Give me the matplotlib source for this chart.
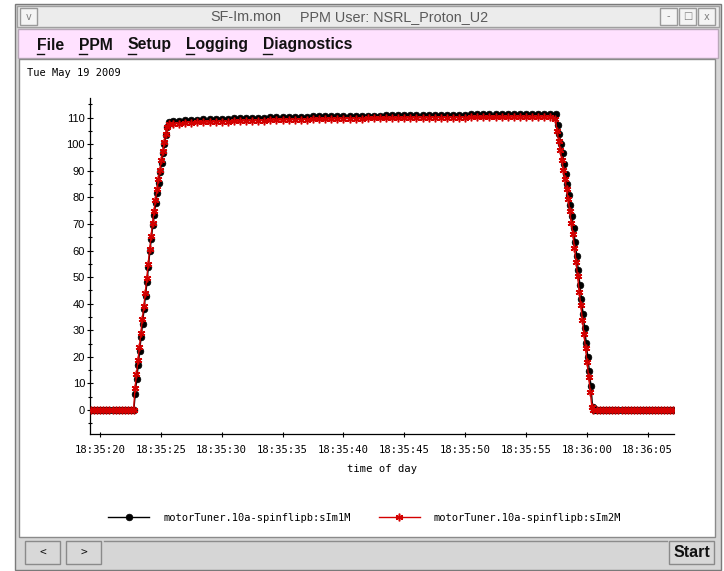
import numpy as np
import pandas as pd
import matplotlib
matplotlib.use("Agg")
import matplotlib.pyplot as plt
import matplotlib.dates as mdates
from matplotlib.patches import Rectangle

T0 = pd.Timestamp("2009-05-19 18:35:00")

# ---- data: seconds after 18:35:00 where a segment starts, its sample period, values ----
# motorTuner.10a-spinflipb:sIm1M (black)
blk_lead = [0, 0, 0, 0, 0, 0, 0, 0, 0, 0, 0, 0, 0, 0]
blk_up = [0, 6.2, 11.6, 16.9, 22.4, 27.5, 32.5, 38.0, 43.0, 48.0, 54.0, 59.8, 64.4,
          69.5, 73.5, 77.9, 81.6, 85.6, 89.4, 92.9, 96.6, 100.0, 103.5, 106.5, 108.3]
blk_flat = [108.6, 108.8, 109.0, 109.1, 109.3, 109.4, 109.4, 109.5, 109.6, 109.6,
            109.7, 109.8, 109.9, 109.9, 110.0, 110.0, 110.1, 110.2, 110.2, 110.3,
            110.3, 110.4, 110.4, 110.5, 110.5, 110.5, 110.6, 110.6, 110.7, 110.7,
            110.7, 110.6, 110.8, 110.8, 110.8, 110.9, 110.9, 110.9, 110.9, 111.0,
            111.0, 111.0, 111.0, 111.1, 111.1, 111.1, 111.1, 111.1, 111.1, 111.2,
            111.2, 111.2, 111.2, 111.2, 111.2, 111.3, 111.3, 111.3, 111.3, 111.3,
            111.3, 111.3, 111.3]
blk_down = [111.4, 107.2, 103.7, 100.2, 96.6, 92.7, 88.7, 84.9, 80.9, 77.0, 73.0, 68.5,
            63.3, 58.0, 52.6, 47.2, 41.6, 36.0, 30.7, 25.3, 19.8, 14.8, 9.0, 1.2, 0]
blk_tail = [0, 0, 0, 0, 0, 0, 0, 0, 0, 0, 0, 0, 0, 0, 0, 0, 0, 0, 0, 0, 0, 0, 0, 0, 0, 0]

# motorTuner.10a-spinflipb:sIm2M (red)
red_lead = [0, 0, 0, 0, 0, 0, 0, 0, 0, 0, 0, 0, 0, 0]
red_up = [0, 8.4, 13.7, 18.7, 23.7, 29.0, 34.4, 39.0, 44.0, 49.5, 55.0, 60.5, 65.5,
          70.5, 75.0, 79.0, 83.0, 87.0, 90.5, 94.0, 97.5, 101.0, 104.0, 106.5, 107.5]
red_flat = [107.6, 107.8, 108.0, 108.1, 108.2, 108.3, 108.3, 108.4, 108.5, 108.5,
            108.6, 108.7, 108.8, 108.8, 108.9, 108.9, 109.0, 109.1, 109.1, 109.2,
            109.2, 109.3, 109.3, 109.4, 109.4, 109.4, 109.5, 109.5, 109.6, 109.6,
            109.6, 109.5, 109.7, 109.7, 109.7, 109.8, 109.8, 109.8, 109.8, 109.9,
            109.9, 109.9, 109.9, 110.0, 110.0, 110.0, 110.0, 110.0, 110.0, 110.1,
            110.1, 110.1, 110.1, 110.1, 110.1, 110.2, 110.2, 110.2, 110.2, 110.2,
            110.2, 110.2, 110.2]
red_down = [109.5, 105.0, 101.2, 97.7, 94.0, 90.3, 86.8, 83.0, 79.3, 74.9, 70.5, 66.1,
            61.1, 55.7, 50.4, 44.4, 39.4, 34.0, 28.8, 23.4, 18.1, 12.5, 6.9, 1.2, 0]
red_tail = [0, 0, 0, 0, 0, 0, 0, 0, 0, 0, 0, 0, 0, 0, 0, 0, 0, 0, 0, 0, 0, 0, 0, 0, 0, 0]

blk_segments = [(19.28, 0.25, blk_lead), (22.78, 0.12, blk_up), (26.0, 0.5, blk_flat),
                (57.48, 0.13, blk_down), (60.85, 0.25, blk_tail)]
red_segments = [(19.28, 0.25, red_lead), (22.76, 0.12, red_up), (26.0, 0.5, red_flat),
                (57.42, 0.13, red_down), (60.85, 0.25, red_tail)]

labels = ["motorTuner.10a-spinflipb:sIm1M", "motorTuner.10a-spinflipb:sIm2M"]


def build(segments):
    times, vals = [], []
    for start, step, values in segments:
        secs = start + step * np.arange(len(values))
        times.append(T0 + pd.to_timedelta(secs, unit="s"))
        vals.extend(values)
    return np.concatenate([t.to_numpy() for t in times]), np.array(vals)


bt, bv = build(blk_segments)
rt, rv = build(red_segments)

W, H = 724, 571
fig = plt.figure(figsize=(W / 100, H / 100), dpi=100, facecolor="white")

# ---- window chrome (pixel coordinates, y downwards) ----
bg = fig.add_axes([0, 0, 1, 1])
bg.set_xlim(0, W)
bg.set_ylim(H, 0)
bg.axis("off")

bg.add_patch(Rectangle((15, 4), 706, 566, fc="#d6d6d6", ec="#7a7a7a", lw=1))
bg.add_patch(Rectangle((17, 6), 702, 21, fc="#ececec", ec="#a0a0a0", lw=1))
for x0, glyph in [(20, "v"), (660, "-"), (679, "\u25a1"), (698, "x")]:
    bg.add_patch(Rectangle((x0, 8), 17, 17, fc="#f4f4f4", ec="#9a9a9a", lw=1))
    bg.text(x0 + 8.5, 16.5, glyph, ha="center", va="center", fontsize=7, color="#808080")
bg.text(210, 17, "SF-Im.mon", ha="left", va="center", fontsize=10.4,
        family="Liberation Sans", color="#5a5a5a")
bg.text(300, 17, "PPM User: NSRL_Proton_U2", ha="left", va="center", fontsize=10.4,
        family="Liberation Sans", color="#5a5a5a")

bg.add_patch(Rectangle((18, 29), 700, 29, fc="#ffe1ff", ec="#b8a8b8", lw=1))
menu_font = ["Liberation Sans Narrow", "Liberation Sans"]
for x0, word, uw in [(37, "File", 7), (79, "PPM", 8), (128, "Setup", 8),
                     (186, "Logging", 8), (263, "Diagnostics", 9)]:
    bg.text(x0, 45, word, ha="left", va="center", fontsize=11.3, fontweight="bold",
            family=menu_font, color="#111111")
    bg.plot([x0, x0 + uw], [54, 54], color="#111111", lw=1)

bg.add_patch(Rectangle((19, 59), 696, 478, fc="white", ec="#8a8a8a", lw=1))
bg.text(27, 73, "Tue May 19 2009", ha="left", va="center", fontsize=7.5,
        family="DejaVu Sans Mono", color="black")

bg.plot([104, 667], [541, 541], color="#8c8c8c", lw=1)
for x0, w, txt, fw in [(25, 35, "<", "normal"), (66, 35, ">", "normal"), (669, 45, "Start", "bold")]:
    bg.add_patch(Rectangle((x0, 541), w, 23, fc="#d8d8d8", ec="#8a8a8a", lw=1))
    bg.text(x0 + w / 2, 552.5, txt, ha="center", va="center",
            fontsize=11.5 if fw == "bold" else 8, fontweight=fw,
            family=menu_font if fw == "bold" else "DejaVu Sans Mono", color="#111111")

# ---- the plot ----
ax = fig.add_axes([90 / W, 1 - 434 / H, 584 / W, 336 / H])
ax.set_facecolor("none")
l1, = ax.plot(bt, bv, color="black", lw=1, marker="o", markersize=4.8,
              markeredgewidth=0.5, zorder=3)
l2, = ax.plot(rt, rv, color="#d40000", lw=1, marker=(6, 2, 0), markersize=5.5,
              markeredgewidth=1.1, zorder=4)

ax.set_xlim((T0 + pd.Timedelta(seconds=19.18)).to_pydatetime(),
            (T0 + pd.Timedelta(seconds=67.16)).to_pydatetime())
ax.set_ylim(-9.0, 117.4)
ax.xaxis.set_major_locator(mdates.SecondLocator(bysecond=range(0, 60, 5)))
ax.xaxis.set_major_formatter(mdates.DateFormatter("%H:%M:%S"))
ax.set_yticks(np.arange(0, 111, 10))
ax.set_yticks(np.arange(-5, 116, 10), minor=True)

for s in ["top", "right"]:
    ax.spines[s].set_visible(False)
for s in ["left", "bottom"]:
    ax.spines[s].set_linewidth(0.9)

ax.tick_params(axis="y", which="major", direction="inout", length=4.8, width=0.8,
               pad=1.2, labelsize=8, labelfontfamily="Liberation Sans")
ax.tick_params(axis="y", which="minor", direction="inout", length=2.9, width=0.8)
ax.tick_params(axis="x", which="major", direction="inout", length=3.6, width=0.8,
               pad=6, labelsize=7.6, labelfontfamily="DejaVu Sans Mono")
ax.set_xlabel("time of day", fontsize=7.6, family="DejaVu Sans Mono", labelpad=6.5)

fig.legend(handles=[l1, l2], labels=labels, loc="center left",
           bbox_to_anchor=(108 / W, 1 - 518 / H), ncol=2, frameon=False,
           prop={"family": "DejaVu Sans Mono", "size": 7.5}, handlelength=3.94,
           handletextpad=1.35, columnspacing=2.7, borderpad=0, borderaxespad=0,
           numpoints=1)

fig.savefig("out.png", dpi=100)
